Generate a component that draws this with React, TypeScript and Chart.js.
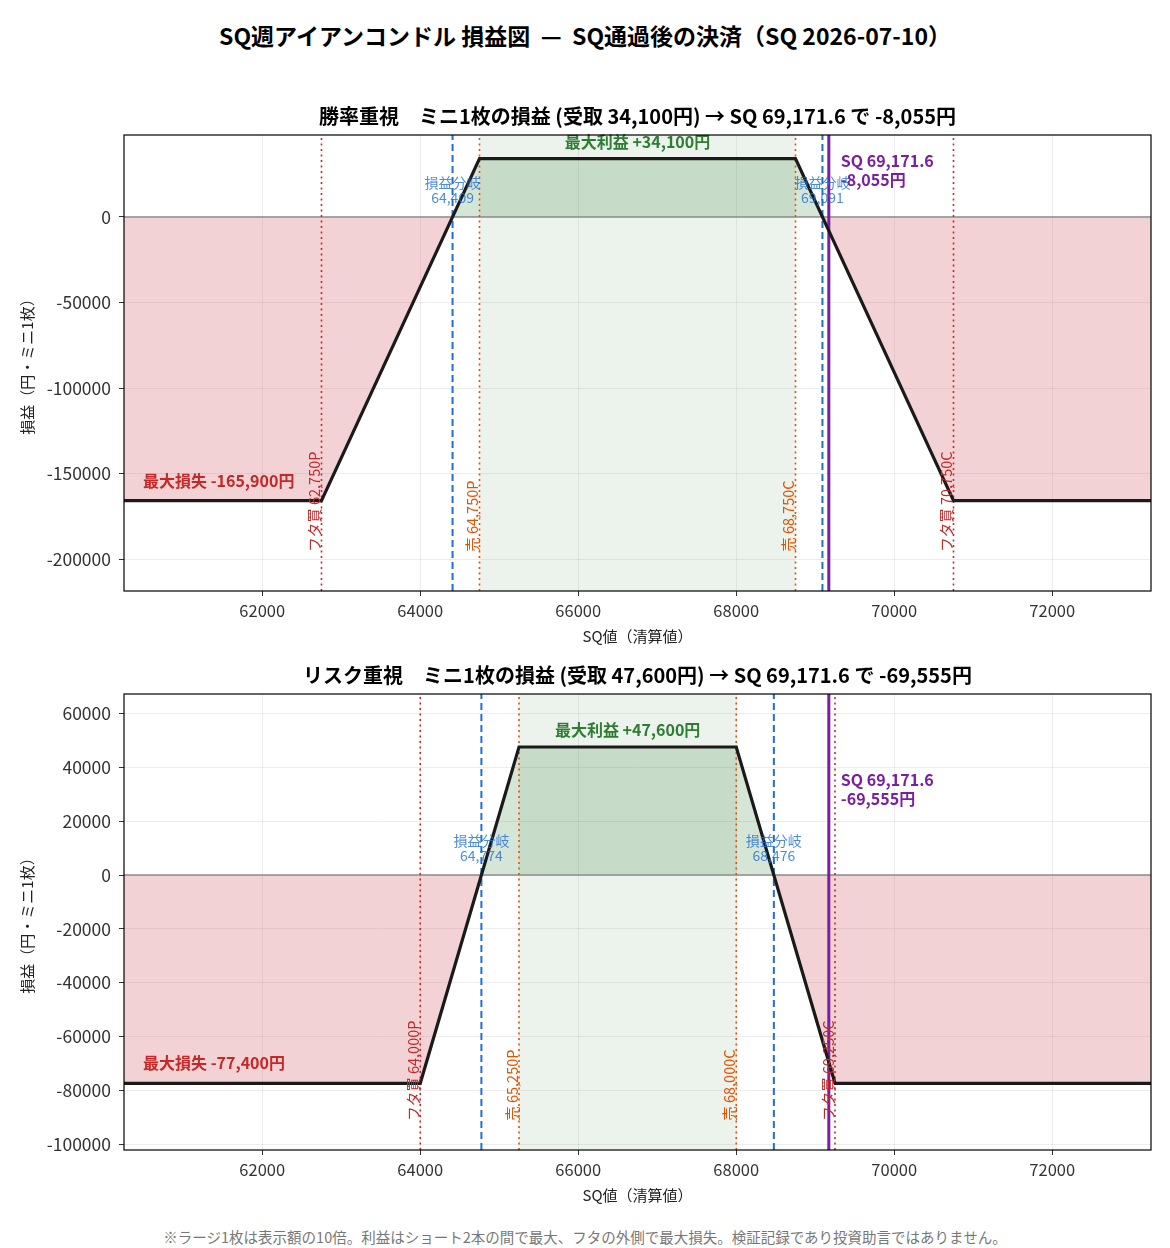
import React, { useEffect, useRef } from 'react';
import { Chart, registerables } from 'chart.js';

Chart.register(...registerables);

const FONT = "'Noto Sans CJK JP', 'Noto Sans', sans-serif";

// shared x axis
const xRange = [60250, 73250];
const xTicks = [62000, 64000, 66000, 68000, 70000, 72000];
const sqPrice = 69171.6;

// 勝率重視
const winStrikes = [62750, 64750, 68750, 70750]; // buy put, sell put, sell call, buy call
const winCredit = 34100;
const winMaxLoss = -165900;
const winBreakevens = [64409, 69091];
const winSqPnl = -8055;
const winYTicks = [0, -50000, -100000, -150000, -200000];
const winYRange = [-218700, 47950];
const winSqLabelY = 32750;

// リスク重視
const riskStrikes = [64000, 65250, 68000, 69250];
const riskCredit = 47600;
const riskMaxLoss = -77400;
const riskBreakevens = [64774, 68476];
const riskSqPnl = -69555;
const riskYTicks = [60000, 40000, 20000, 0, -20000, -40000, -60000, -80000, -100000];
const riskYRange = [-102200, 67300];
const riskSqLabelY = 35300;

const fmt = (v: number) => v.toLocaleString('en-US');

type Cfg = {
  title: string;
  strikes: number[];
  credit: number;
  maxLoss: number;
  breakevens: number[];
  sqPnl: number;
  yTicks: number[];
  yRange: number[];
  sqLabelY: number;
};

const winCfg: Cfg = {
  title: `勝率重視　ミニ1枚の損益 (受取 ${fmt(winCredit)}円) → SQ ${fmt(sqPrice)} で ${fmt(winSqPnl)}円`,
  strikes: winStrikes, credit: winCredit, maxLoss: winMaxLoss, breakevens: winBreakevens,
  sqPnl: winSqPnl, yTicks: winYTicks, yRange: winYRange, sqLabelY: winSqLabelY,
};
const riskCfg: Cfg = {
  title: `リスク重視　ミニ1枚の損益 (受取 ${fmt(riskCredit)}円) → SQ ${fmt(sqPrice)} で ${fmt(riskSqPnl)}円`,
  strikes: riskStrikes, credit: riskCredit, maxLoss: riskMaxLoss, breakevens: riskBreakevens,
  sqPnl: riskSqPnl, yTicks: riskYTicks, yRange: riskYRange, sqLabelY: riskSqLabelY,
};

const RED = '#c62828';
const ORANGE = '#e65100';
const BLUE = '#1f6fd6';
const PURPLE = '#7b1fa2';
const GREEN = '#2e7d32';

function buildChart(canvas: HTMLCanvasElement, cfg: Cfg) {
  const [bp, sp, sc, bc] = cfg.strikes;
  const payoff = [
    { x: xRange[0], y: cfg.maxLoss },
    { x: bp, y: cfg.maxLoss },
    { x: sp, y: cfg.credit },
    { x: sc, y: cfg.credit },
    { x: bc, y: cfg.maxLoss },
    { x: xRange[1], y: cfg.maxLoss },
  ];
  const vline = (v: number) => [{ x: v, y: cfg.yRange[0] }, { x: v, y: cfg.yRange[1] }];
  const base = { showLine: true, pointRadius: 0, fill: false, tension: 0 };
  const strikeLabels = [
    `フタ買 ${fmt(bp)}P`, `売 ${fmt(sp)}P`, `売 ${fmt(sc)}C`, `フタ買 ${fmt(bc)}C`,
  ];
  const strikeColors = [RED, ORANGE, ORANGE, RED];

  const plugin = {
    id: 'condorDecor',
    beforeDatasetsDraw(chart: any) {
      const { ctx, chartArea, scales } = chart;
      const x = scales.x;
      const a = x.getPixelForValue(sp);
      const b = x.getPixelForValue(sc);
      ctx.save();
      ctx.fillStyle = 'rgba(46,125,50,0.09)';
      ctx.fillRect(a, chartArea.top, b - a, chartArea.bottom - chartArea.top);
      ctx.restore();
    },
    afterDatasetsDraw(chart: any) {
      const { ctx, chartArea, scales } = chart;
      const x = scales.x;
      const y = scales.y;
      ctx.save();
      // max profit
      ctx.font = `bold 16px ${FONT}`;
      ctx.fillStyle = GREEN;
      ctx.textAlign = 'center';
      ctx.textBaseline = 'middle';
      ctx.fillText(`最大利益 +${fmt(cfg.credit)}円`, x.getPixelForValue((sp + sc) / 2), y.getPixelForValue(cfg.credit) - 17);
      // breakevens
      ctx.font = `14px ${FONT}`;
      ctx.fillStyle = 'rgba(31,111,214,0.8)';
      const y0 = y.getPixelForValue(0);
      cfg.breakevens.forEach((be) => {
        const px = x.getPixelForValue(be);
        ctx.fillText('損益分岐', px, y0 - 34);
        ctx.fillText(fmt(be), px, y0 - 19);
      });
      // SQ label
      ctx.font = `bold 16px ${FONT}`;
      ctx.fillStyle = PURPLE;
      ctx.textAlign = 'left';
      const sx = x.getPixelForValue(sqPrice) + 12;
      const sy = y.getPixelForValue(cfg.sqLabelY);
      ctx.fillText(`SQ ${fmt(sqPrice)}`, sx, sy);
      ctx.fillText(`${fmt(cfg.sqPnl)}円`, sx, sy + 19);
      // max loss
      ctx.fillStyle = RED;
      ctx.fillText(`最大損失 ${fmt(cfg.maxLoss)}円`, chartArea.left + 19, y.getPixelForValue(cfg.maxLoss) - 20);
      // strike labels (rotated)
      ctx.font = `14.5px ${FONT}`;
      const ly = y.getPixelForValue(cfg.maxLoss * 1.18);
      cfg.strikes.forEach((s, i) => {
        ctx.save();
        ctx.fillStyle = strikeColors[i];
        ctx.translate(x.getPixelForValue(s) - 7, ly);
        ctx.rotate(-Math.PI / 2);
        ctx.textAlign = 'left';
        ctx.textBaseline = 'middle';
        ctx.fillText(strikeLabels[i], 0, 0);
        ctx.restore();
      });
      // frame
      ctx.strokeStyle = '#000';
      ctx.lineWidth = 1.2;
      ctx.strokeRect(chartArea.left, chartArea.top, chartArea.right - chartArea.left, chartArea.bottom - chartArea.top);
      ctx.restore();
    },
  };

  return new Chart(canvas, {
    type: 'scatter',
    data: {
      datasets: [
        { ...base, data: payoff, borderColor: '#1a1a1a', borderWidth: 3.2 },
        { ...base, data: vline(sqPrice), borderColor: PURPLE, borderWidth: 3 },
        { ...base, data: vline(bp), borderColor: RED, borderWidth: 1.6, borderDash: [2, 3.5] },
        { ...base, data: vline(bc), borderColor: RED, borderWidth: 1.6, borderDash: [2, 3.5] },
        { ...base, data: vline(sp), borderColor: ORANGE, borderWidth: 1.6, borderDash: [2, 3.5] },
        { ...base, data: vline(sc), borderColor: ORANGE, borderWidth: 1.6, borderDash: [2, 3.5] },
        { ...base, data: vline(cfg.breakevens[0]), borderColor: BLUE, borderWidth: 2, borderDash: [7, 4] },
        { ...base, data: vline(cfg.breakevens[1]), borderColor: BLUE, borderWidth: 2, borderDash: [7, 4] },
        { ...base, data: [{ x: xRange[0], y: 0 }, { x: xRange[1], y: 0 }], borderColor: '#8c8c8c', borderWidth: 1.6 },
        {
          ...base,
          data: payoff,
          borderWidth: 0,
          borderColor: 'rgba(0,0,0,0)',
          fill: { target: 'origin', above: 'rgba(46,125,50,0.2)', below: 'rgba(200,60,70,0.23)' },
        },
      ],
    },
    options: {
      responsive: false,
      animation: false,
      events: [],
      layout: { padding: { left: 0, right: 19, top: 0, bottom: 0 } },
      plugins: {
        legend: { display: false },
        tooltip: { enabled: false },
        title: {
          display: true,
          fullSize: false,
          text: cfg.title,
          color: '#000',
          font: { family: FONT, size: 20, weight: 'bold' },
          padding: { top: 9.5, bottom: 6.5 },
        },
      },
      scales: {
        x: {
          type: 'linear',
          min: xRange[0],
          max: xRange[1],
          afterBuildTicks: (s: any) => { s.ticks = xTicks.map((v) => ({ value: v })); },
          afterFit: (s: any) => { s.height = 59; },
          grid: { color: 'rgba(0,0,0,0.07)', tickColor: '#333', tickLength: 5, lineWidth: 1 },
          border: { display: false },
          ticks: { font: { family: FONT, size: 16.5 }, color: '#333', padding: 5, maxRotation: 0, callback: (v: any) => String(v) },
          title: { display: true, text: 'SQ値（清算値）', color: '#222', font: { family: FONT, size: 15 }, padding: { top: 0, bottom: 5 } },
        },
        y: {
          type: 'linear',
          min: cfg.yRange[0],
          max: cfg.yRange[1],
          afterBuildTicks: (s: any) => { s.ticks = cfg.yTicks.map((v) => ({ value: v })); },
          afterFit: (s: any) => { s.width = 124; },
          grid: { color: 'rgba(0,0,0,0.07)', tickColor: '#333', tickLength: 5, lineWidth: 1 },
          border: { display: false },
          ticks: { font: { family: FONT, size: 17.5 }, color: '#333', padding: 8, callback: (v: any) => String(v) },
          title: { display: true, text: '損益（円・ミニ1枚）', color: '#222', font: { family: FONT, size: 15 }, padding: { top: 18, bottom: 0 } },
        },
      },
    },
    plugins: [plugin],
  } as any);
}

function PayoffChart({ cfg, top }: { cfg: Cfg; top: number }) {
  const ref = useRef<HTMLCanvasElement>(null);
  useEffect(() => {
    if (!ref.current) return;
    const chart = buildChart(ref.current, cfg);
    return () => chart.destroy();
  }, [cfg]);
  return (
    <div style={{ position: 'absolute', left: 0, top, width: 1170, height: 555 }}>
      <canvas ref={ref} width={1170} height={555} style={{ display: 'block' }} />
    </div>
  );
}

export default function App() {
  return (
    <div style={{ position: 'absolute', left: 0, top: 0, width: 1170, height: 1248, background: '#fff', fontFamily: FONT, overflow: 'hidden' }}>
      <div style={{ position: 'absolute', left: 0, top: 20, width: 1170, lineHeight: '30px', textAlign: 'center', fontSize: 23, fontWeight: 'bold', color: '#000', whiteSpace: 'pre' }}>
        {'SQ週アイアンコンドル 損益図  —  SQ通過後の決済（SQ 2026-07-10）'}
      </div>
      <PayoffChart cfg={winCfg} top={95} />
      <PayoffChart cfg={riskCfg} top={654} />
      <div style={{ position: 'absolute', left: 0, top: 1227, width: 1170, lineHeight: '20px', textAlign: 'center', fontSize: 14.5, color: '#777' }}>
        ※ラージ1枚は表示額の10倍。利益はショート2本の間で最大、フタの外側で最大損失。検証記録であり投資助言ではありません。
      </div>
    </div>
  );
}
